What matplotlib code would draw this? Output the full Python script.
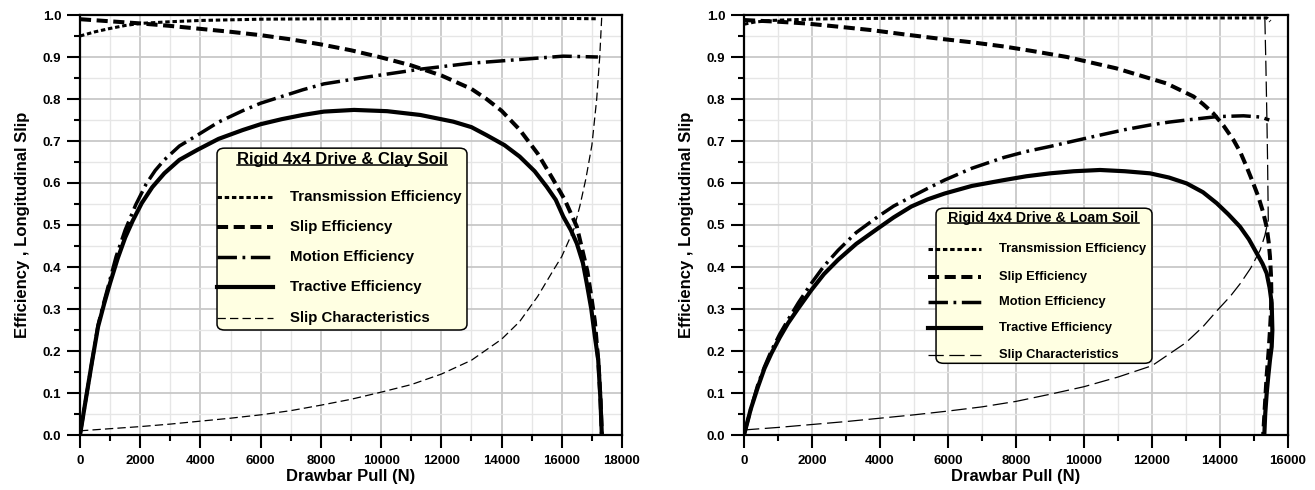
import matplotlib
matplotlib.use("Agg")
import matplotlib.pyplot as plt
from matplotlib.patches import FancyBboxPatch
from matplotlib.lines import Line2D
from matplotlib.ticker import MultipleLocator, FormatStrFormatter

plt.rcParams['font.family'] = ['Liberation Sans', 'DejaVu Sans']
plt.rcParams['font.weight'] = 'bold'
plt.rcParams['lines.scale_dashes'] = False

# ---- Clay soil (left panel) ----
clay_trans_x = [0, 500, 1000, 1500, 2000, 3000, 4000, 6000, 8000, 10000, 12000, 14000, 16000, 17200]
clay_trans_y = [0.950, 0.960, 0.968, 0.975, 0.980, 0.984, 0.987, 0.990, 0.991, 0.992, 0.992, 0.992, 0.992, 0.991]

clay_slipeff_x = [0, 1000, 2000, 3000, 4000, 5000, 6000, 7000, 8000, 9000, 10000, 11000, 12000, 13000,
                  13500, 14000, 14600, 15200, 15700, 16100, 16500, 16850, 16980, 17100, 17220, 17290, 17330]
clay_slipeff_y = [0.990, 0.985, 0.980, 0.974, 0.967, 0.960, 0.952, 0.942, 0.930, 0.916, 0.899, 0.880, 0.856, 0.824,
                  0.800, 0.772, 0.727, 0.670, 0.610, 0.560, 0.496, 0.390, 0.330, 0.270, 0.170, 0.080, 0.0]

clay_motion_x = [0, 200, 400, 600, 800, 940, 1200, 1500, 1850, 2200, 2500, 2800, 3300, 3900, 4600, 5400,
                 6000, 6700, 7400, 8100, 9600, 11300, 12950, 14600, 16050, 17200]
clay_motion_y = [0.0, 0.088, 0.175, 0.262, 0.318, 0.355, 0.425, 0.488, 0.548, 0.598, 0.630, 0.655, 0.688, 0.714,
                 0.745, 0.772, 0.790, 0.806, 0.822, 0.836, 0.853, 0.871, 0.885, 0.894, 0.902, 0.900]

clay_tract_x = [0, 200, 400, 600, 800, 1000, 1250, 1500, 1750, 2050, 2400, 2800, 3300, 3900, 4600, 5400,
                6000, 6700, 7400, 8100, 9100, 10200, 11300, 12400, 13000, 13500, 14100, 14600, 15100,
                15500, 15800, 16050, 16300, 16500, 16700, 16830, 16980, 17100, 17210, 17280, 17330]
clay_tract_y = [0.0, 0.088, 0.175, 0.258, 0.312, 0.362, 0.420, 0.470, 0.510, 0.552, 0.590, 0.623, 0.655, 0.679,
                0.705, 0.726, 0.740, 0.752, 0.762, 0.770, 0.774, 0.771, 0.762, 0.746, 0.733, 0.714, 0.690,
                0.663, 0.628, 0.591, 0.560, 0.520, 0.488, 0.456, 0.410, 0.361, 0.300, 0.234, 0.179, 0.090, 0.0]

clay_slip_x = [0, 1000, 2000, 3000, 4000, 5000, 6000, 7000, 8000, 9000, 10000, 11000, 12000, 13000,
               14000, 14600, 15200, 15700, 16000, 16400, 16600, 16800, 17000, 17160, 17260, 17330]
clay_slip_y = [0.010, 0.015, 0.020, 0.026, 0.033, 0.040, 0.048, 0.058, 0.071, 0.085, 0.102, 0.120, 0.145, 0.178,
               0.228, 0.270, 0.330, 0.390, 0.425, 0.490, 0.545, 0.610, 0.690, 0.800, 0.900, 1.0]

# ---- Loam soil (right panel) ----
loam_trans_x = [0, 300, 800, 1500, 2500, 4000, 6000, 8000, 10000, 12000, 14000, 15380, 15480]
loam_trans_y = [0.978, 0.983, 0.987, 0.989, 0.991, 0.992, 0.993, 0.993, 0.993, 0.993, 0.993, 0.993, 0.985]

loam_slipeff_x = [0, 1000, 1800, 2800, 3750, 4700, 5700, 6700, 7650, 8500, 9500, 10950, 12430, 13220,
                  13500, 13800, 14100, 14400, 14600, 14780, 14950, 15130, 15270, 15370, 15430, 15470,
                  15500, 15510, 15500, 15470, 15430, 15370, 15320, 15270]
loam_slipeff_y = [0.988, 0.984, 0.980, 0.972, 0.964, 0.954, 0.944, 0.935, 0.925, 0.914, 0.900, 0.873, 0.837, 0.806,
                  0.788, 0.766, 0.737, 0.702, 0.673, 0.639, 0.605, 0.567, 0.530, 0.496, 0.460, 0.425,
                  0.380, 0.340, 0.295, 0.250, 0.200, 0.139, 0.070, 0.0]

loam_motion_x = [0, 200, 400, 600, 800, 1050, 1300, 1600, 1980, 2350, 2770, 3300, 3940, 4400, 4920, 5400,
                 5900, 6700, 7650, 8300, 9000, 9700, 10470, 11200, 11940, 12500, 13020, 13900, 14690,
                 15200, 15450]
loam_motion_y = [0.0, 0.062, 0.118, 0.162, 0.200, 0.240, 0.275, 0.315, 0.361, 0.402, 0.440, 0.482, 0.520, 0.545,
                 0.567, 0.587, 0.607, 0.635, 0.661, 0.675, 0.687, 0.700, 0.714, 0.727, 0.738, 0.745, 0.750,
                 0.758, 0.760, 0.757, 0.750]

loam_tract_x = [0, 200, 412, 600, 804, 1050, 1294, 1600, 1980, 2350, 2765, 3300, 3941, 4400, 4921, 5400,
                5902, 6700, 7650, 8300, 9000, 9700, 10470, 11200, 11941, 12500, 13020, 13500, 13902,
                14250, 14588, 14850, 15078, 15250, 15373, 15460, 15520, 15540, 15520, 15470, 15420,
                15373, 15330, 15303]
loam_tract_y = [0.0, 0.062, 0.115, 0.158, 0.194, 0.232, 0.266, 0.302, 0.345, 0.383, 0.417, 0.455, 0.492, 0.518,
                0.544, 0.561, 0.575, 0.593, 0.607, 0.616, 0.623, 0.628, 0.631, 0.628, 0.623, 0.613, 0.599,
                0.578, 0.552, 0.525, 0.496, 0.466, 0.433, 0.408, 0.385, 0.350, 0.314, 0.250, 0.210,
                0.179, 0.140, 0.099, 0.050, 0.0]

loam_slip_x = [0, 1000, 2000, 3000, 4000, 5000, 6000, 7000, 8000, 9000, 10000, 11000, 12000, 13000,
               13500, 13900, 14300, 14600, 14900, 15180, 15320, 15420, 15410, 15400, 15380, 15350, 15320]
loam_slip_y = [0.012, 0.018, 0.025, 0.032, 0.040, 0.048, 0.057, 0.067, 0.080, 0.097, 0.115, 0.138, 0.165, 0.220,
               0.258, 0.295, 0.330, 0.361, 0.397, 0.440, 0.475, 0.512, 0.580, 0.650, 0.750, 0.880, 0.990]

labels = ['Transmission Efficiency', 'Slip Efficiency', 'Motion Efficiency',
          'Tractive Efficiency', 'Slip Characteristics']

# line styles (dash lengths in points)
sty_trans = dict(color='black', lw=2.2, ls=(0, (3.2, 2.0)))
sty_slipeff = dict(color='black', lw=2.9, ls=(0, (8, 4)))
sty_motion = dict(color='black', lw=2.5, ls=(0, (14, 4, 2, 4)))
sty_tract = dict(color='black', lw=3.0, ls='-')
sty_slip_clay = dict(color='black', lw=0.9, ls=(0, (6, 3)))
sty_slip_loam = dict(color='black', lw=0.9, ls=(0, (11, 4)))

fig = plt.figure(figsize=(13.15, 4.9), dpi=100)
axL = fig.add_axes([80 / 1315, 55 / 490, 542 / 1315, 420 / 490])
axR = fig.add_axes([744 / 1315, 55 / 490, 544 / 1315, 420 / 490])


def style_axes(ax, xmax):
    ax.set_xlim(0, xmax)
    ax.set_ylim(0, 1.0)
    ax.xaxis.set_major_locator(MultipleLocator(2000))
    ax.xaxis.set_minor_locator(MultipleLocator(1000))
    ax.yaxis.set_major_locator(MultipleLocator(0.1))
    ax.yaxis.set_minor_locator(MultipleLocator(0.05))
    ax.yaxis.set_major_formatter(FormatStrFormatter('%.1f'))
    ax.set_axisbelow(True)
    ax.grid(which='major', color='#c8c8c8', lw=1.3)
    ax.grid(which='minor', color='#e6e6e6', lw=1.0)
    for sp in ax.spines.values():
        sp.set_linewidth(1.6)
    ax.tick_params(which='major', direction='out', length=9.5, width=1.5, labelsize=9.5, pad=4)
    ax.tick_params(which='minor', direction='out', length=4.5, width=1.5)
    ax.tick_params(axis='x', which='major', pad=5)
    for t in ax.get_xticklabels() + ax.get_yticklabels():
        t.set_fontweight('bold')
    ax.set_xlabel('Drawbar Pull (N)', fontsize=12, fontweight='bold', labelpad=1)
    ax.set_ylabel('Efficiency , Longitudinal Slip', fontsize=12, fontweight='bold', labelpad=9)


def draw_key(ax, box, title, title_xy, title_size, rows, hx, tx, size, styles):
    x0, y0, x1, y1 = box
    patch = FancyBboxPatch((x0, y0), x1 - x0, y1 - y0, boxstyle='round,pad=0,rounding_size=0.014',
                           transform=ax.transAxes, facecolor='#ffffe2', edgecolor='black', lw=1.1,
                           zorder=6, clip_on=False)
    ax.add_patch(patch)
    t = ax.text(title_xy[0], title_xy[1], title, transform=ax.transAxes, ha='center', va='center',
                fontsize=title_size, fontweight='bold', zorder=8)
    for y, lab, st in zip(rows, labels, styles):
        ax.add_line(Line2D(hx, [y, y], transform=ax.transAxes, zorder=8, clip_on=False, **st))
        ax.text(tx, y, lab, transform=ax.transAxes, ha='left', va='center', fontsize=size,
                fontweight='bold', zorder=8)
    return t


# left panel
axL.plot(clay_trans_x, clay_trans_y, **sty_trans, zorder=3)
axL.plot(clay_slipeff_x, clay_slipeff_y, **sty_slipeff, zorder=3)
axL.plot(clay_motion_x, clay_motion_y, **sty_motion, zorder=3)
axL.plot(clay_tract_x, clay_tract_y, **sty_tract, zorder=3)
axL.plot(clay_slip_x, clay_slip_y, **sty_slip_clay, zorder=3)
style_axes(axL, 18000)

# right panel
axR.plot(loam_trans_x, loam_trans_y, **sty_trans, zorder=3)
axR.plot(loam_slipeff_x, loam_slipeff_y, **sty_slipeff, zorder=3)
axR.plot(loam_motion_x, loam_motion_y, **sty_motion, zorder=3)
axR.plot(loam_tract_x, loam_tract_y, **sty_tract, zorder=3)
axR.plot(loam_slip_x, loam_slip_y, **sty_slip_loam, zorder=3)
style_axes(axR, 16000)

tL = draw_key(axL, (0.2528, 0.25, 0.714, 0.683), 'Rigid 4x4 Drive & Clay Soil', (0.4834, 0.655), 12,
              [0.5667, 0.4952, 0.4238, 0.3524, 0.2786], [0.2528, 0.356], 0.3875, 10.8,
              [sty_trans, sty_slipeff, sty_motion, sty_tract, sty_slip_clay])
tR = draw_key(axR, (0.353, 0.1707, 0.75, 0.54), 'Rigid 4x4 Drive & Loam Soil', (0.5506, 0.5167), 10.3,
              [0.4421, 0.3769, 0.3174, 0.2540, 0.1905], [0.338, 0.4357], 0.4688, 9.25,
              [sty_trans, sty_slipeff, sty_motion, sty_tract, sty_slip_loam])

# underline the key titles
fig.canvas.draw()
for ax, t in ((axL, tL), (axR, tR)):
    bb = t.get_window_extent()
    inv = ax.transAxes.inverted()
    (ux0, uy0), (ux1, uy1) = inv.transform([(bb.x0, bb.y0), (bb.x1, bb.y1)])
    uy = uy0 + (uy1 - uy0) * 0.17
    ax.add_line(Line2D([ux0, ux1], [uy, uy], transform=ax.transAxes, color='black', lw=1.1,
                       zorder=8, clip_on=False))

fig.savefig('out.png', dpi=100)
